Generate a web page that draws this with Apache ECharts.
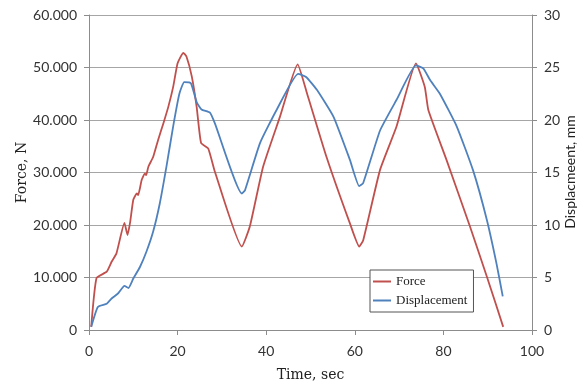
<!DOCTYPE html>
<html>
<head>
<meta charset="utf-8">
<script src="https://cdn.jsdelivr.net/npm/echarts@6/dist/echarts.min.js"></script>
<style>html,body{margin:0;padding:0;background:#fff;}#c{width:579px;height:387px;}</style>
</head>
<body>
<div id="c"></div>
<script>
var forceTime = [0.5,1.7,4.0,5.1,6.2,8.0,8.7,9.3,10.0,10.8,11.1,11.9,12.6,12.9,13.4,14.5,15.6,16.8,17.9,19.0,20.0,21.3,22.0,23.2,24.3,25.3,26.9,28.4,34.5,36.3,39.3,43.1,47.1,49.1,53.6,58.9,61.0,61.9,65.7,69.4,73.8,75.8,76.6,80.7,86.0,89.8,93.5];
var forceValues = [0.6,9.9,11.1,13.0,14.6,20.4,18.1,20.6,24.8,26.0,25.7,28.6,29.8,29.5,31.1,33.0,36.2,39.4,42.5,46.3,50.8,52.8,52.1,48.3,42.5,35.6,34.6,30.2,15.9,19.7,31.1,40.6,50.6,45.4,33.0,20.3,15.9,17.1,30.5,38.7,50.8,46.3,41.9,32.4,19.7,10.2,0.6];
var dispTime = [0.5,2.0,4.0,5.1,6.6,8.0,8.9,10.0,11.5,13.0,14.5,16.0,17.5,19.0,20.4,21.5,23.0,24.3,25.4,27.3,28.4,34.5,35.2,38.6,42.4,47.2,49.0,51.4,55.2,58.9,61.0,61.9,65.7,69.4,73.8,75.5,77.0,79.2,83.0,86.7,89.8,92.0,93.4];
var dispValues = [0.3,2.2,2.5,3.0,3.5,4.2,4.0,4.9,6.0,7.5,9.4,12.1,15.6,19.4,22.5,23.6,23.5,21.7,21.0,20.7,19.7,13.0,13.3,17.8,21.0,24.4,24.1,22.9,20.3,16.2,13.7,14.0,19.0,21.9,25.2,24.9,23.8,22.5,19.4,15.2,10.5,6.3,3.2];
var forceTicks = {min:0, max:60, interval:10};
var dispTicks = {min:0, max:30, interval:5};
var timeTicks = {min:0, max:100, interval:20};
var rightTitle = 'Displacmeent, mm';

function pairs(xs, ys){ var r=[]; for(var i=0;i<xs.length;i++) r.push([xs[i], ys[i]]); return r; }

var axisLineStyle = {show:true, lineStyle:{color:'#8c8c8c', width:1}};
var tickStyle = {show:true, length:5, lineStyle:{color:'#8c8c8c'}};
var labelFont = {fontFamily:'Lato', fontSize:14, color:'#333'};
var chart = echarts.init(document.getElementById('c'));
chart.setOption({
  animation:false,
  grid:{left:89, right:47, top:15, bottom:57, containLabel:false, outerBoundsMode:'none'},
  graphic:[{type:'text', x:570, y:172, rotation:Math.PI/2,
    style:{text:rightTitle, fontFamily:'Lato', fontSize:14, fill:'#222', align:'center', verticalAlign:'middle'}}],
  xAxis:{type:'value', min:timeTicks.min, max:timeTicks.max, interval:timeTicks.interval,
    name:'Time, sec', nameLocation:'middle', nameGap:38, nameMoveOverlap:false,
    nameTextStyle:{fontFamily:'DejaVu Serif', fontSize:14, color:'#222'},
    axisLine:axisLineStyle, axisTick:tickStyle, splitLine:{show:false},
    axisLabel:Object.assign({margin:14}, labelFont)},
  yAxis:[
    {type:'value', min:forceTicks.min, max:forceTicks.max, interval:forceTicks.interval,
     name:'Force, N', nameLocation:'middle', nameGap:60, nameRotate:90, nameMoveOverlap:false,
     nameTextStyle:{fontFamily:'DejaVu Serif', fontSize:14, color:'#222'},
     axisLine:axisLineStyle, axisTick:tickStyle,
     splitLine:{show:true, lineStyle:{color:'#a6a6a6', width:1}},
     axisLabel:Object.assign({margin:12, formatter:function(v){return v===0?'0':(v).toFixed(0)+'.000';}}, labelFont)},
    {type:'value', position:'right', min:dispTicks.min, max:dispTicks.max, interval:dispTicks.interval,
     axisLine:axisLineStyle, axisTick:tickStyle, splitLine:{show:false},
     axisLabel:Object.assign({margin:12}, labelFont)}
  ],
  legend:{orient:'vertical', left:370, top:270, backgroundColor:'#fff',
    borderColor:'#555', borderWidth:1, padding:[5,6,5,3], itemGap:6,
    itemWidth:18, itemHeight:2, icon:'rect',
    textStyle:{fontFamily:'Liberation Serif', fontSize:13, color:'#222'},
    data:['Force','Displacement']},
  series:[
    {name:'Force', type:'line', yAxisIndex:0, showSymbol:false, smooth:0.15,
     lineStyle:{color:'#C0504D', width:1.8}, itemStyle:{color:'#C0504D'},
     data:pairs(forceTime, forceValues)},
    {name:'Displacement', type:'line', yAxisIndex:1, showSymbol:false, smooth:0.15,
     lineStyle:{color:'#4F81BD', width:1.8}, itemStyle:{color:'#4F81BD'},
     data:pairs(dispTime, dispValues)}
  ]
});
</script>
</body>
</html>
